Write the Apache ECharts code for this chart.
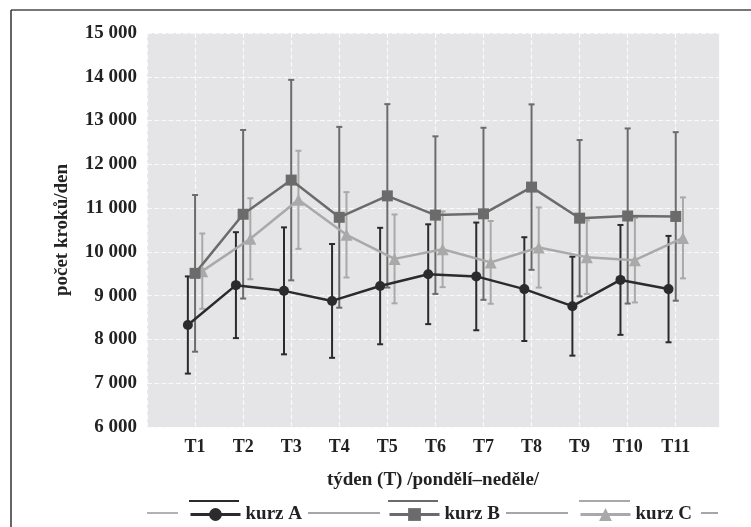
<!DOCTYPE html>
<html lang="cs">
<head>
<meta charset="UTF-8">
<title>Počet kroků za den</title>
<script src="https://cdn.jsdelivr.net/npm/echarts@6/dist/echarts.min.js"></script>
<style>
  html, body { margin: 0; padding: 0; background: #fff; }
  #main { width: 751px; height: 527px; }
</style>
</head>
<body>
<div id="main"></div>
<script>
// data: weekly mean and SD
const weeks = ['T1', 'T2', 'T3', 'T4', 'T5', 'T6', 'T7', 'T8', 'T9', 'T10', 'T11'];
const meanA = [8330, 9240, 9110, 8880, 9220, 9490, 9440, 9150, 8760, 9360, 9150];
const sdA   = [1110, 1210, 1450, 1300, 1330, 1140, 1230, 1185, 1130, 1255, 1215];
const meanB = [9510, 10860, 11640, 10790, 11280, 10840, 10870, 11480, 10770, 10820, 10810];
const sdB   = [1790, 1925, 2290, 2065, 2095, 1800, 1965, 1890, 1785, 2000, 1925];
const meanC = [9560, 10300, 11190, 10390, 9840, 10060, 9760, 10100, 9880, 9810, 10320];
const sdC   = [860, 925, 1120, 975, 1015, 865, 945, 915, 840, 965, 925];
const yTicks = [6000, 7000, 8000, 9000, 10000, 11000, 12000, 13000, 14000, 15000];

const font = 'Liberation Serif';
const colA = '#2b2b2b', colB = '#6b6b6b', colC = '#a9a9a9';

function points(means, shift) {
  return means.map((m, i) => [i + 1 + shift, m]);
}
function bars(means, sds, shift) {
  return means.map((m, i) => [i + 1 + shift, m - sds[i], m + sds[i]]);
}

// svisla chybova usecka s kratkymi priccemi
function errorBar(color) {
  return function (params, api) {
    const x = api.value(0);
    const lo = api.coord([x, api.value(1)]);
    const hi = api.coord([x, api.value(2)]);
    const cap = 3;
    const style = { stroke: color, lineWidth: 2 };
    return {
      type: 'group',
      children: [
        { type: 'line', shape: { x1: lo[0], y1: lo[1], x2: hi[0], y2: hi[1] }, style: style },
        { type: 'line', shape: { x1: lo[0] - cap, y1: lo[1], x2: lo[0] + cap, y2: lo[1] }, style: style },
        { type: 'line', shape: { x1: hi[0] - cap, y1: hi[1], x2: hi[0] + cap, y2: hi[1] }, style: style }
      ]
    };
  };
}

function lineSeries(name, means, shift, color, symbol, size) {
  return {
    name: name, type: 'line', data: points(means, shift),
    symbol: symbol, symbolSize: size, z: 5,
    lineStyle: { color: color, width: 2.5 },
    itemStyle: { color: color }
  };
}
function barSeries(name, means, sds, shift, color) {
  return {
    name: name, type: 'custom', data: bars(means, sds, shift),
    encode: { x: 0, y: [1, 2] }, z: 3,
    renderItem: errorBar(color)
  };
}

const labelStyle = { fontFamily: font, fontWeight: 'bold', color: '#222' };

function legendFor(name, left) {
  return {
    data: [name], left: left, top: 505, padding: 0,
    itemWidth: 50, itemHeight: 16,
    lineStyle: { width: 3 },
    textStyle: Object.assign({ fontSize: 19 }, labelStyle),
    selectedMode: false
  };
}

function hline(x1, x2, y, color, w) {
  return { type: 'line', silent: true, shape: { x1: x1, y1: y, x2: x2, y2: y }, style: { stroke: color, lineWidth: w } };
}

const chart = echarts.init(document.getElementById('main'), null, { renderer: 'canvas' });

chart.setOption({
  animation: false,
  backgroundColor: '#fff',
  grid: {
    left: 147, top: 33, right: 32, bottom: 100,
    show: true, backgroundColor: '#e5e5e7', borderWidth: 0
  },
  xAxis: {
    type: 'value', min: 0, max: 11.9, interval: 1,
    name: 'týden (T) /pondělí–neděle/', nameLocation: 'middle', nameGap: 44,
    nameTextStyle: Object.assign({ fontSize: 19 }, labelStyle),
    axisLine: { show: false }, axisTick: { show: false },
    axisLabel: Object.assign({
      fontSize: 18, margin: 11,
      formatter: v => (v >= 1 && v <= weeks.length) ? weeks[v - 1] : ''
    }, labelStyle),
    splitLine: { show: true, lineStyle: { color: '#fafafa', type: 'dashed', width: 1.2 } }
  },
  yAxis: {
    type: 'value', min: yTicks[0], max: yTicks[yTicks.length - 1], interval: 1000,
    name: 'počet kroků/den', nameLocation: 'middle', nameGap: 75,
    nameTextStyle: Object.assign({ fontSize: 19 }, labelStyle),
    axisLine: { show: false }, axisTick: { show: false },
    axisLabel: Object.assign({
      fontSize: 19, margin: 10,
      formatter: v => String(v).replace(/\B(?=(\d{3})+(?!\d))/g, ' ')
    }, labelStyle),
    splitLine: { show: true, lineStyle: { color: '#fafafa', type: 'dashed', width: 1.2 } }
  },
  legend: [legendFor('kurz A', 189), legendFor('kurz B', 388), legendFor('kurz C', 579)],
  series: [
    barSeries('sd A', meanA, sdA, -0.15, colA),
    barSeries('sd B', meanB, sdB, 0, colB),
    barSeries('sd C', meanC, sdC, 0.15, colC),
    lineSeries('kurz C', meanC, 0.15, colC, 'triangle', 12),
    lineSeries('kurz B', meanB, 0, colB, 'rect', 11),
    lineSeries('kurz A', meanA, -0.15, colA, 'circle', 10)
  ],
  graphic: [
    // ramecek
    hline(11, 751, 10, '#777', 2),
    { type: 'line', silent: true, shape: { x1: 11, y1: 10, x2: 11, y2: 527 }, style: { stroke: '#333', lineWidth: 1.5 } },
    // spojovaci cary v legende
    hline(147, 178, 513, '#999', 1.5),
    hline(308, 380, 513, '#888', 1.5),
    hline(506, 568, 513, '#888', 1.5),
    hline(701, 718, 513, '#888', 1.5),
    hline(189, 239, 501, colA, 2),
    hline(388, 438, 501, colB, 2),
    hline(579, 630, 501, colC, 2)
  ]
});
</script>
</body>
</html>
